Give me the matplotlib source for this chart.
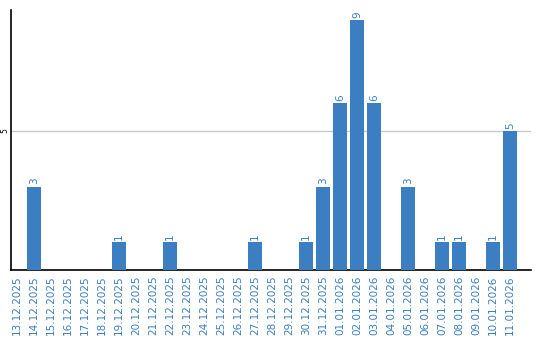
import matplotlib
matplotlib.use("Agg")
import matplotlib.pyplot as plt
from matplotlib.transforms import blended_transform_factory

dates = ["13.12.2025", "14.12.2025", "15.12.2025", "16.12.2025", "17.12.2025",
         "18.12.2025", "19.12.2025", "20.12.2025", "21.12.2025", "22.12.2025",
         "23.12.2025", "24.12.2025", "25.12.2025", "26.12.2025", "27.12.2025",
         "28.12.2025", "29.12.2025", "30.12.2025", "31.12.2025", "01.01.2026",
         "02.01.2026", "03.01.2026", "04.01.2026", "05.01.2026", "06.01.2026",
         "07.01.2026", "08.01.2026", "09.01.2026", "10.01.2026", "11.01.2026"]
counts = [0, 3, 0, 0, 0, 0, 1, 0, 0, 1,
          0, 0, 0, 0, 1, 0, 0, 1, 3, 6,
          9, 6, 0, 3, 0, 1, 1, 0, 1, 5]
y_ticks = [5]

blue = "#3b7ec2"

fig = plt.figure(figsize=(5.4, 3.4), dpi=100)
ax = fig.add_axes([10.5 / 540, 70 / 340, 520.5 / 540, 260 / 340])

x = range(len(dates))
ax.bar(x, counts, width=0.82, color=blue, zorder=3)

for i, c in enumerate(counts):
    if c > 0:
        ax.text(i, c + 0.08, str(c), rotation=90, ha="center", va="bottom",
                color=blue, fontsize=7.5)

ax.set_xlim(-0.38, 30.24)
ax.set_ylim(0, 9.35)
ax.set_xticks(list(x))
ax.set_xticklabels(dates, rotation=90, fontsize=7.5, color=blue)
ax.set_yticks(y_ticks)
ax.set_yticklabels([])
ax.tick_params(length=0, pad=4)
ax.grid(axis="y", color="#c8c8c8", linewidth=1, zorder=0)

# y tick labels drawn by hand so they sit inside the narrow left margin
trans = blended_transform_factory(fig.transFigure, ax.transData)
for t in y_ticks:
    fig.text(5 / 540, t, str(t), transform=trans, rotation=90,
             ha="center", va="center", fontsize=5.5)

for s in ["top", "right"]:
    ax.spines[s].set_visible(False)
ax.spines["left"].set_linewidth(1.2)
ax.spines["bottom"].set_linewidth(1.2)

fig.savefig("out.png", dpi=100)
